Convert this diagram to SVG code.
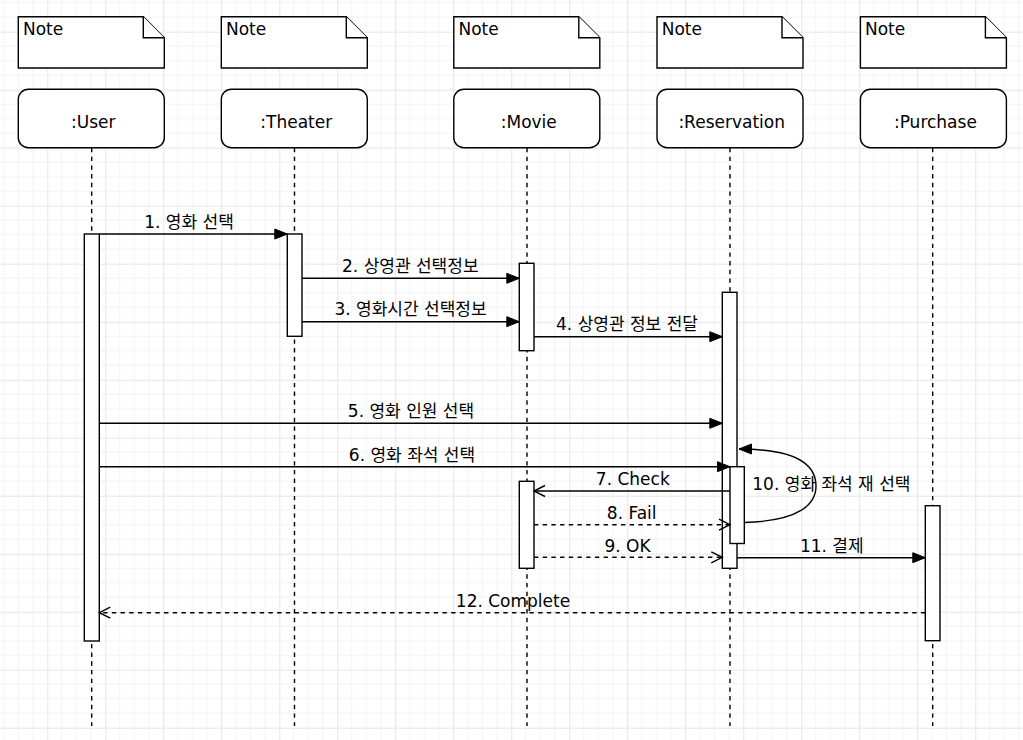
<svg xmlns="http://www.w3.org/2000/svg" width="1023" height="740" viewBox="0 0 1023 740">
<defs>
<pattern id="grid" patternUnits="userSpaceOnUse" x="47.3" y="31.7" width="58" height="58">
<path d="M14.5,0V58M29,0V58M43.5,0V58M0,14.5H58M0,29H58M0,43.5H58" stroke="#f3f3f3" stroke-width="1" fill="none"/>
<path d="M0.5,0V58M0,0.5H58" stroke="#e6e6e6" stroke-width="1" fill="none"/>
</pattern>
<marker id="fill" markerUnits="userSpaceOnUse" markerWidth="14" markerHeight="12" refX="12.5" refY="5" orient="auto" overflow="visible">
<path d="M0,0L12.5,5L0,10z" fill="#000" stroke="#000" stroke-width="1"/>
</marker>
<marker id="open" markerUnits="userSpaceOnUse" markerWidth="14" markerHeight="14" refX="11" refY="5.5" orient="auto" overflow="visible">
<path d="M0,0L11,5.5L0,11" fill="none" stroke="#000" stroke-width="1.4"/>
</marker>
</defs>
<style>
.note{fill:#fff;stroke:#000;stroke-width:1.4}
.box{fill:#fff;stroke:#000;stroke-width:1.4}
.act{fill:#fff;stroke:#000;stroke-width:1.4}
.life{stroke:#000;stroke-width:1.4;stroke-dasharray:4.35 4.35;fill:none}
.msg{stroke:#000;stroke-width:1.4;fill:none}
.sync{marker-end:url(#fill)}
.ret{stroke-dasharray:4.35 4.35;marker-end:url(#open)}
.call{marker-end:url(#open)}
text{font-family:"DejaVu Sans","Noto Sans CJK KR",sans-serif;font-size:17px;fill:#000}
.c{text-anchor:middle}
</style>
<rect width="1023" height="740" fill="#fff"/>
<rect width="1023" height="740" fill="url(#grid)"/>

<g id="note-user"><path class="note" d="M18.3,16.7H143.3L164.3,37.7V68H18.3Z"/><path class="note" d="M143.3,16.7V37.7H164.3" fill="none"/><text x="23" y="35">Note</text></g>
<g id="note-theater"><path class="note" d="M221.3,16.7H346.3L367.3,37.7V68H221.3Z"/><path class="note" d="M346.3,16.7V37.7H367.3" fill="none"/><text x="226" y="35">Note</text></g>
<g id="note-movie"><path class="note" d="M453.8,16.7H578.8L599.8,37.7V68H453.8Z"/><path class="note" d="M578.8,16.7V37.7H599.8" fill="none"/><text x="458.5" y="35">Note</text></g>
<g id="note-reservation"><path class="note" d="M657,16.7H782L803,37.7V68H657Z"/><path class="note" d="M782,16.7V37.7H803" fill="none"/><text x="661.7" y="35">Note</text></g>
<g id="note-purchase"><path class="note" d="M860.4,16.7H985.4L1006.4,37.7V68H860.4Z"/><path class="note" d="M985.4,16.7V37.7H1006.4" fill="none"/><text x="865" y="35">Note</text></g>

<g id="lifelines">
<line class="life" x1="91.7" y1="148" x2="91.7" y2="726"/>
<line class="life" x1="294.5" y1="148" x2="294.5" y2="726"/>
<line class="life" x1="527" y1="148" x2="527" y2="726"/>
<line class="life" x1="730" y1="148" x2="730" y2="726"/>
<line class="life" x1="932.7" y1="148" x2="932.7" y2="726"/>
</g>

<g id="user"><rect class="box" x="18.3" y="89.3" width="146" height="58.4" rx="10"/><text class="c" x="93.3" y="127.7">:User</text></g>
<g id="theater"><rect class="box" x="221.3" y="89.3" width="146" height="58.4" rx="10"/><text class="c" x="296.3" y="127.7">:Theater</text></g>
<g id="movie"><rect class="box" x="453.8" y="89.3" width="146" height="58.4" rx="10"/><text class="c" x="528.8" y="127.7">:Movie</text></g>
<g id="reservation"><rect class="box" x="657" y="89.3" width="146" height="58.4" rx="10"/><text class="c" x="731.7" y="127.7">:Reservation</text></g>
<g id="purchase"><rect class="box" x="860.4" y="89.3" width="146" height="58.4" rx="10"/><text class="c" x="935.4" y="127.7">:Purchase</text></g>

<g id="activations">
<rect class="act" x="84.3" y="234" width="15" height="407"/>
<rect class="act" x="287.3" y="234" width="14.7" height="102.3"/>
<rect class="act" x="519.3" y="263.3" width="14.7" height="87.4"/>
<rect class="act" x="722.3" y="292.3" width="14.7" height="276"/>
<rect class="act" x="730" y="466.7" width="14.3" height="76.8"/>
<rect class="act" x="519.3" y="481.3" width="14.7" height="87"/>
<rect class="act" x="925.3" y="505.7" width="14.7" height="135"/>
</g>

<g id="connectors">
<line class="msg sync" x1="99.3" y1="234" x2="287.3" y2="234"/>
<line class="msg sync" x1="302" y1="278.3" x2="519.3" y2="278.3"/>
<line class="msg sync" x1="302" y1="321.7" x2="519.3" y2="321.7"/>
<line class="msg sync" x1="534" y1="336.7" x2="722.3" y2="336.7"/>
<line class="msg sync" x1="99.3" y1="423.3" x2="722.3" y2="423.3"/>
<line class="msg sync" x1="99.3" y1="466.7" x2="730" y2="466.7"/>
<line class="msg call" x1="730" y1="491" x2="534" y2="491"/>
<line class="msg ret" x1="534" y1="524.7" x2="730" y2="524.7"/>
<line class="msg ret" x1="534" y1="557.3" x2="722.3" y2="557.3"/>
<path class="msg sync" d="M744.3,522.5C800,521 816,504 816,486C816,466 800,449 739,449"/>
<line class="msg sync" x1="737" y1="557.7" x2="925.3" y2="557.7"/>
<line class="msg ret" x1="925.3" y1="612.7" x2="99.3" y2="612.7"/>
</g>

<g id="labels">
<text class="c" x="189" y="228.3">1. 영화 선택</text>
<text class="c" x="410.3" y="272">2. 상영관 선택정보</text>
<text class="c" x="410.5" y="315">3. 영화시간 선택정보</text>
<text class="c" x="627" y="329.5">4. 상영관 정보 전달</text>
<text class="c" x="411" y="417">5. 영화 인원 선택</text>
<text class="c" x="412" y="461">6. 영화 좌석 선택</text>
<text class="c" x="632.8" y="484.5">7. Check</text>
<text class="c" x="631.7" y="519">8. Fail</text>
<text class="c" x="627.5" y="551.7">9. OK</text>
<text x="752.3" y="490">10. 영화 좌석 재 선택</text>
<text class="c" x="831.8" y="551.7">11. 결제</text>
<text class="c" x="513" y="607">12. Complete</text>
</g>
</svg>
